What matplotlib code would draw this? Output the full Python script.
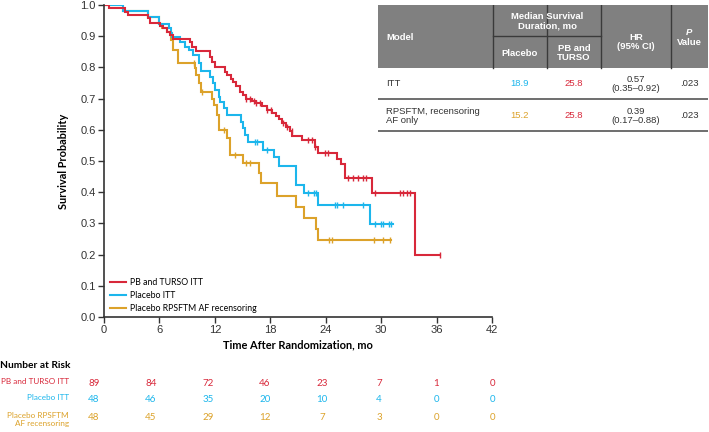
import numpy as np
import matplotlib.pyplot as plt
import matplotlib.patches as patches
from matplotlib import font_manager

# ---- curve data (time in months, survival) ----
red_t = [0, 0.5, 2.3, 2.6, 4.8, 5.0, 6.1, 6.4, 6.8, 7.1, 7.5, 9.3, 9.5, 10.0, 11.5, 11.7, 12.0,
         13.1, 13.3, 13.7, 14.0, 14.3, 14.7, 15.1, 15.4, 16.0, 16.5, 17.1, 17.6, 18.2, 18.6, 18.9,
         19.3, 19.7, 20.1, 20.4, 21.4, 22.8, 23.2, 25.2, 25.7, 26.1, 29.0, 33.7]
red_s = [1.0, 0.99, 0.979, 0.968, 0.957, 0.943, 0.934, 0.925, 0.915, 0.904, 0.891, 0.88, 0.866,
         0.851, 0.834, 0.818, 0.80, 0.786, 0.775, 0.764, 0.752, 0.74, 0.72, 0.71, 0.70, 0.693,
         0.685, 0.675, 0.665, 0.655, 0.645, 0.635, 0.622, 0.61, 0.595, 0.58, 0.567, 0.546, 0.525,
         0.505, 0.49, 0.444, 0.398, 0.20]
red_end = 36.4
red_cens = [15.4, 15.8, 16.2, 16.5, 16.9, 17.6, 18.1, 19.4, 19.8, 20.3, 22.1, 22.5, 22.8, 23.9,
            24.3, 26.4, 27.0, 27.5, 28.0, 28.4, 29.3, 32.0, 32.4, 32.8, 33.1, 36.4]

blue_t = [0, 2.1, 4.8, 5.9, 7.0, 7.2, 7.4, 8.2, 8.8, 9.2, 9.6, 10.3, 10.5, 11.5, 11.8, 12.0,
          12.4, 12.6, 13.0, 13.3, 14.8, 15.0, 15.3, 15.6, 17.2, 18.4, 18.9, 20.8, 21.6, 23.2, 28.8]
blue_s = [1.0, 0.98, 0.963, 0.94, 0.925, 0.909, 0.896, 0.882, 0.866, 0.856, 0.84, 0.813, 0.79,
          0.77, 0.749, 0.728, 0.706, 0.69, 0.669, 0.647, 0.626, 0.605, 0.583, 0.562, 0.535, 0.514,
          0.484, 0.423, 0.396, 0.359, 0.298]
blue_end = 31.3
blue_cens = [16.3, 16.6, 17.6, 22.1, 22.7, 22.9, 25.0, 25.2, 25.9, 28.0, 29.3, 30.0, 30.2, 30.8,
             31.1]

yellow_t = [0, 2.1, 4.8, 5.9, 6.3, 6.8, 7.3, 7.5, 8.0, 9.85, 10.0, 10.3, 10.5, 11.65, 11.9, 12.2,
            12.5, 13.3, 13.6, 15.1, 16.8, 17.0, 18.75, 20.8, 21.6, 22.9, 23.2]
yellow_s = [1.0, 0.98, 0.963, 0.94, 0.925, 0.914, 0.888, 0.856, 0.813, 0.797, 0.776, 0.749,
            0.722, 0.70, 0.68, 0.647, 0.60, 0.573, 0.519, 0.492, 0.46, 0.428, 0.388, 0.354,
            0.316, 0.281, 0.247]
yellow_end = 31.1
yellow_cens = [9.7, 10.6, 13.0, 14.2, 15.4, 15.8, 24.4, 24.7, 29.2, 30.2, 31.0]

labels = ['PB and TURSO ITT', 'Placebo ITT', 'Placebo RPSFTM AF recensoring']
risk_labels = ['PB and TURSO ITT', 'Placebo ITT', 'Placebo RPSFTM\nAF recensoring']
risk_times = [0, 6, 12, 18, 24, 30, 36, 42]
risk_red = [89, 84, 72, 46, 23, 7, 1, 0]
risk_blue = [48, 46, 35, 20, 10, 4, 0, 0]
risk_yellow = [48, 45, 29, 12, 7, 3, 0, 0]

# table content
table_rows = ['ITT', 'RPSFTM, recensoring\nAF only']
median_placebo = ['18.9', '15.2']
median_pb = ['25.8', '25.8']
hr_text = ['0.57\n(0.35–0.92)', '0.39\n(0.17–0.88)']
p_text = ['.023', '.023']

RED = '#d8283a'
BLUE = '#1cb6ec'
YEL = '#dca22a'
W, H = 709, 432
LATO = ['Lato', 'DejaVu Sans']

# narrow face for the risk-table labels if there is one
try:
    font_manager.findfont('Liberation Sans Narrow', fallback_to_default=False)
    NARROW, NSIZE = ['Liberation Sans Narrow', 'DejaVu Sans'], 6.8
except ValueError:
    NARROW, NSIZE = LATO, 5.9

plt.rcParams['font.family'] = ['Liberation Sans', 'DejaVu Sans']
fig = plt.figure(figsize=(W / 100, H / 100), dpi=100)


def px_axes(x0, y0, x1, y1):
    return fig.add_axes([x0 / W, 1 - y1 / H, (x1 - x0) / W, (y1 - y0) / H])


ax = px_axes(104, 5, 492, 317)


def step_at(t, s, x):
    i = np.searchsorted(t, x, side='right') - 1
    return np.asarray(s)[i]


for t, s, end, cens, col, lab in [
        (red_t, red_s, red_end, red_cens, RED, labels[0]),
        (blue_t, blue_s, blue_end, blue_cens, BLUE, labels[1]),
        (yellow_t, yellow_s, yellow_end, yellow_cens, YEL, labels[2])][::-1]:
    xs = list(t) + [end]
    ys = list(s) + [s[-1]]
    ax.step(xs, ys, where='post', color=col, lw=1.5, label=lab, solid_joinstyle='miter')
    cy = [step_at(t, s, c) for c in cens]
    ax.plot(cens, cy, ls='none', marker='|', ms=5, mew=1, color=col)

ax.set_xlim(0, 42)
ax.set_ylim(0, 1.0)
ax.set_xticks(np.arange(0, 43, 6))
ax.set_yticks(np.arange(0, 1.01, 0.1))
ax.set_yticklabels([f'{v:.1f}' for v in np.arange(0, 1.01, 0.1)])
ax.tick_params(labelsize=8, colors='#333333', length=4, width=1, pad=2)
for sp in ['top', 'right']:
    ax.spines[sp].set_visible(False)
for sp in ['left', 'bottom']:
    ax.spines[sp].set_color('#333333')
    ax.spines[sp].set_linewidth(1.2)
ax.set_xlabel('Time After Randomization, mo', fontsize=7.9, fontweight='bold',
              family=LATO, labelpad=3)
ax.set_ylabel('Survival Probability', fontsize=7.9, fontweight='bold',
              family=LATO, labelpad=8)

h, l = ax.get_legend_handles_labels()
leg = ax.legend(h[::-1], l[::-1], loc='lower left', frameon=False,
                handlelength=1.8, handletextpad=0.4, labelspacing=0.45,
                borderaxespad=0.1, bbox_to_anchor=(0.005, 0.0),
                prop={'family': LATO, 'size': 6.3})

# ---- number at risk ----
rax = px_axes(94, 355, 493, 432)
rax.set_xlim(0, 42)
rax.set_ylim(77, 0)
rax.axis('off')
fig.text(0 / W, 1 - 365 / H, 'Number at Risk', fontsize=7.3, fontweight='bold',
         family=LATO, va='center', ha='left')
row_y = [28, 45, 62]
for vals, col, lab, y in zip([risk_red, risk_blue, risk_yellow], [RED, BLUE, YEL],
                             risk_labels, row_y):
    for tt, v in zip(risk_times, vals):
        rax.text(tt, y, str(v), color=col, fontsize=7, ha='center', va='center',
                 family=LATO)
    fig.text(69 / W, 1 - (355 + y - 5.5) / H, lab, color=col, fontsize=NSIZE, ha='right',
             va='top', family=NARROW, linespacing=1.2, multialignment='right')

# ---- table ----
tax = px_axes(378, 5, 708, 132)
tax.set_xlim(0, 330)
tax.set_ylim(127, 0)
tax.axis('off')
edges = [0, 115, 169, 223, 293, 330]
GRAY = '#808080'
tax.add_patch(patches.Rectangle((0, 0), 330, 63, color=GRAY, lw=0))
for e in edges[1:-1]:
    tax.plot([e, e], [0, 63], color='#3a3a3a', lw=1)
tax.plot([edges[1], edges[3]], [31, 31], color='#3a3a3a', lw=1)
tax.plot([0, 330], [94, 94], color='#555555', lw=1.2)
tax.plot([0, 330], [126, 126], color='#555555', lw=1.2)

hdr = dict(color='white', fontsize=6.8, fontweight='bold', ha='center', va='center',
           linespacing=1.1)
tax.text(8, 32, 'Model', **dict(hdr, ha='left'))
tax.text((edges[1] + edges[3]) / 2, 16, 'Median Survival\nDuration, mo', **hdr)
tax.text((edges[1] + edges[2]) / 2, 48, 'Placebo', **hdr)
tax.text((edges[2] + edges[3]) / 2, 48, 'PB and\nTURSO', **hdr)
tax.text((edges[3] + edges[4]) / 2, 37, 'HR\n(95% CI)', **hdr)
tax.text((edges[4] + edges[5]) / 2, 27, 'P', fontstyle='italic', **hdr)
tax.text((edges[4] + edges[5]) / 2, 37.5, 'Value', **hdr)

body = dict(color='#333333', fontsize=6.8, ha='center', va='center', linespacing=1.1)
for i, y in enumerate([79, 111]):
    tax.text(8, y, table_rows[i], **dict(body, ha='left'))
    tax.text((edges[1] + edges[2]) / 2, y, median_placebo[i],
             **dict(body, color=[BLUE, YEL][i]))
    tax.text((edges[2] + edges[3]) / 2, y, median_pb[i], **dict(body, color=RED))
    tax.text((edges[3] + edges[4]) / 2, y, hr_text[i], **body)
    tax.text((edges[4] + edges[5]) / 2, y, p_text[i], **body)

fig.savefig('out.png', dpi=100)
